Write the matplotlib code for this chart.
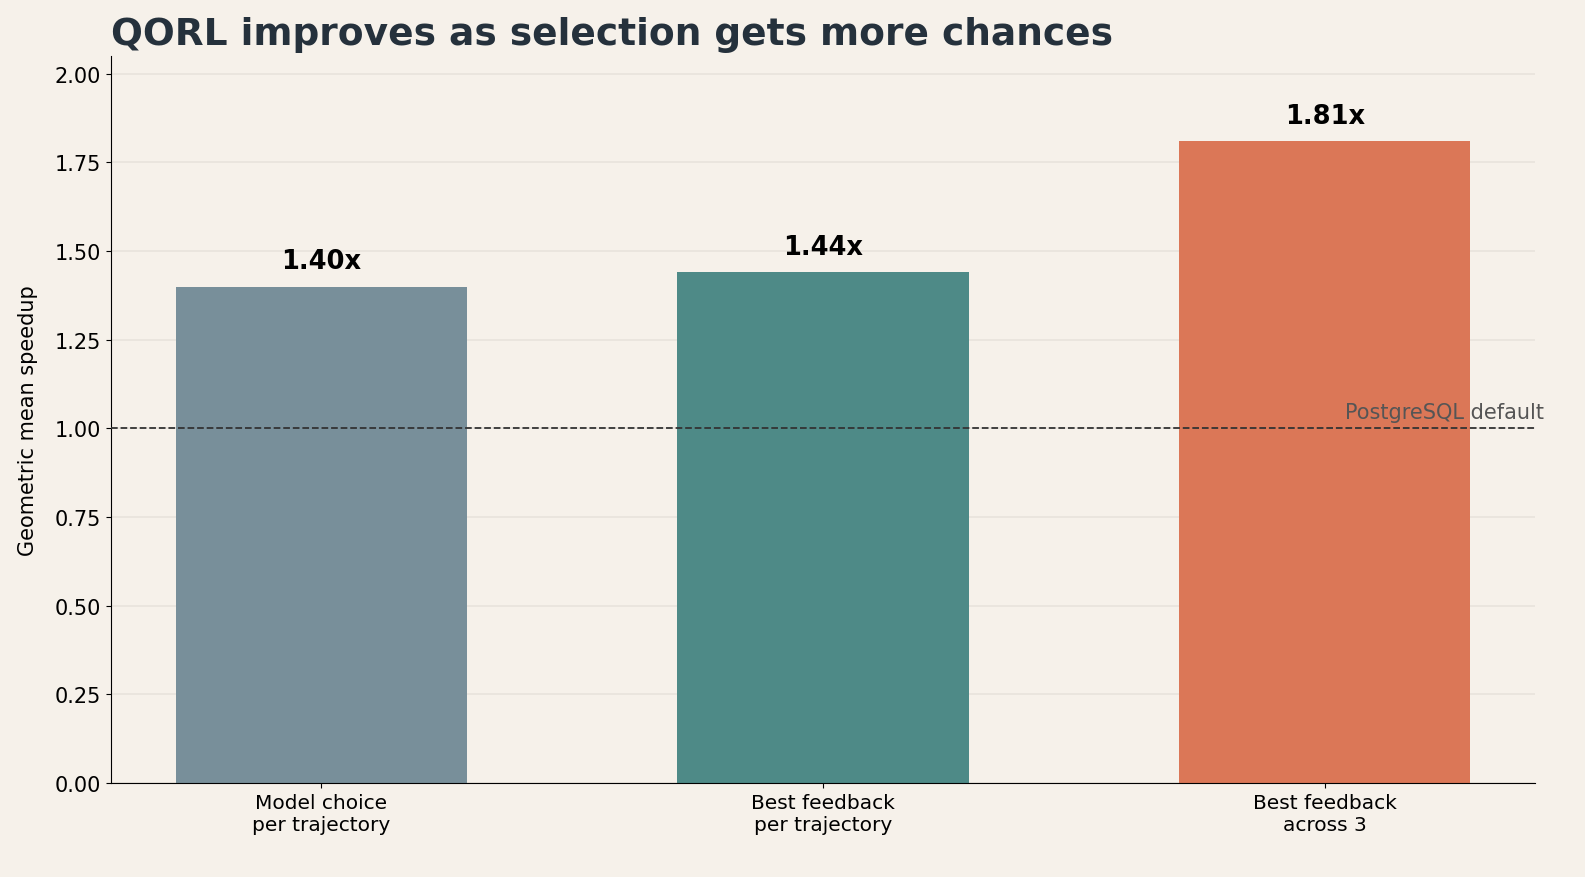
import matplotlib
matplotlib.use("Agg")
import matplotlib.pyplot as plt

categories = ["Model choice\nper trajectory", "Best feedback\nper trajectory", "Best feedback\nacross 3"]
values = [1.40, 1.44, 1.81]
colors = ["#788f9a", "#4e8a87", "#db7757"]
baseline = 1.0
yticks = [0, 0.25, 0.5, 0.75, 1.0, 1.25, 1.5, 1.75, 2.0]

bg = "#f6f1ea"
fig, ax = plt.subplots(figsize=(15.85, 8.78), dpi=100)
fig.patch.set_facecolor(bg)
ax.set_facecolor(bg)

x = list(range(len(categories)))
ax.bar(x, values, width=0.58, color=colors, zorder=2)
for xi, v in zip(x, values):
    ax.text(xi, v + 0.035, f"{v:.2f}x", ha="center", va="bottom", fontsize=18.5, fontweight="bold", color="black", zorder=4)

ax.axhline(baseline, color="#333333", linestyle="--", linewidth=1.3, zorder=3)
ax.text(2.04, baseline + 0.018, "PostgreSQL default", ha="left", va="bottom", fontsize=15, color="#555555", zorder=4)

ax.set_xticks(x)
ax.set_xticklabels(categories, fontsize=14.5)
ax.set_ylim(0, 2.05)
ax.set_yticks(yticks)
ax.set_yticklabels([f"{t:.2f}" for t in yticks], fontsize=15)
ax.set_ylabel("Geometric mean speedup", fontsize=15, labelpad=12)
ax.yaxis.grid(True, color="#e8e3dc", linewidth=1.2, zorder=0)
ax.set_axisbelow(True)
for s in ["top", "right"]:
    ax.spines[s].set_visible(False)
ax.set_title("QORL improves as selection gets more chances", loc="left", fontsize=27, fontweight="bold", color="#25313c", pad=9)

fig.subplots_adjust(left=0.07, right=0.9685, top=0.935, bottom=0.107)
fig.savefig("out.png", dpi=100, facecolor=bg)
